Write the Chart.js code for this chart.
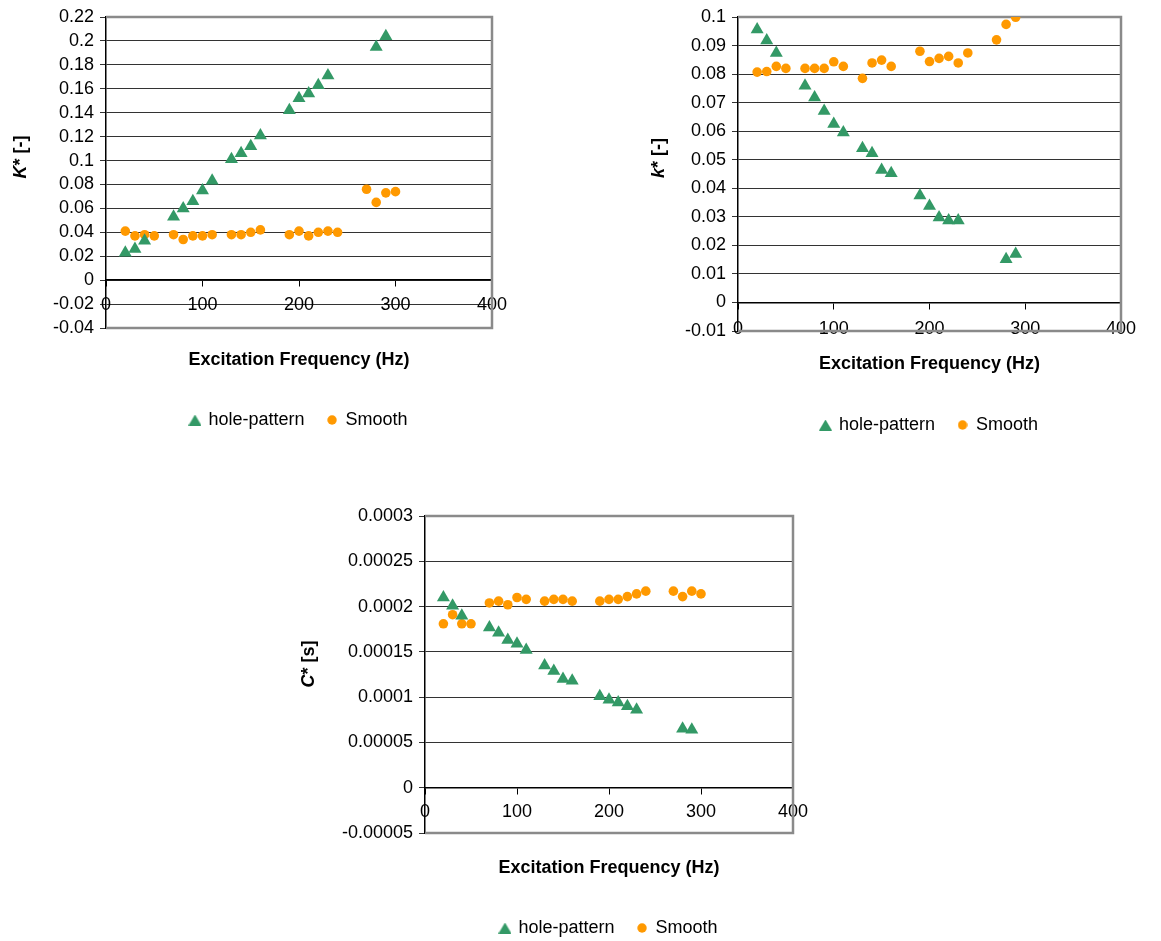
<!DOCTYPE html>
<html>
<head>
<meta charset="UTF-8">
<title>Excitation Frequency</title>
<script src="https://cdn.jsdelivr.net/npm/chart.js@4.4.0/dist/chart.umd.min.js"></script>
<style>
  body { margin: 0; background: #fff; width: 1161px; height: 941px; overflow: hidden; position: relative; }
  .box { position: absolute; }
</style>
</head>
<body>

<div class="box" style="left:0px;top:0px"><canvas id="chart1" width="520" height="440"></canvas></div>
<div class="box" style="left:630px;top:0px"><canvas id="chart2" width="531" height="444"></canvas></div>
<div class="box" style="left:290px;top:484px"><canvas id="chart3" width="540" height="457"></canvas></div>

<script>
// frequencies (Hz)
var freqHole = [20, 30, 40, 70, 80, 90, 100, 110, 130, 140, 150, 160, 190, 200, 210, 220, 230, 280, 290];
var freqSmooth = [20, 30, 40, 50, 70, 80, 90, 100, 110, 130, 140, 150, 160, 190, 200, 210, 220, 230, 240, 270, 280, 290, 300];
var freqSmooth2 = [20, 30, 40, 50, 70, 80, 90, 100, 110, 130, 140, 150, 160, 190, 200, 210, 220, 230, 240, 270, 280, 290];

// K* [-]
var kHole = [0.023, 0.026, 0.033, 0.053, 0.060, 0.066, 0.075, 0.083, 0.101, 0.106, 0.112, 0.121, 0.142, 0.152, 0.156, 0.163, 0.171, 0.195, 0.204];
var kSmooth = [0.041, 0.037, 0.038, 0.037, 0.038, 0.034, 0.037, 0.037, 0.038, 0.038, 0.038, 0.040, 0.042, 0.038, 0.041, 0.037, 0.040, 0.041, 0.040, 0.076, 0.065, 0.073, 0.074];

// k* [-]
var k2Hole = [0.0956, 0.0918, 0.0874, 0.0759, 0.0718, 0.0671, 0.0625, 0.0595, 0.0540, 0.0523, 0.0464, 0.0453, 0.0375, 0.0338, 0.0298, 0.0287, 0.0287, 0.0151, 0.0170];
var k2Smooth = [0.0807, 0.0809, 0.0827, 0.0820, 0.0820, 0.0820, 0.0820, 0.0843, 0.0827, 0.0785, 0.0839, 0.0849, 0.0827, 0.0880, 0.0844, 0.0855, 0.0862, 0.0839, 0.0874, 0.0920, 0.0974, 0.0999];

// C* [s]
var cHole = [0.000210, 0.000201, 0.000190, 0.000177, 0.000171, 0.000163, 0.000159, 0.000152, 0.000135, 0.000129, 0.000120, 0.000118, 0.000101, 0.000097, 0.000094, 0.000090, 0.000086, 0.000065, 0.000064];
var cSmooth = [0.000181, 0.000191, 0.000181, 0.000181, 0.000204, 0.000206, 0.000202, 0.000210, 0.000208, 0.000206, 0.000208, 0.000208, 0.000206, 0.000206, 0.000208, 0.000208, 0.000211, 0.000214, 0.000217, 0.000217, 0.000211, 0.000217, 0.000214];

// axis ranges: [min, max, step]
var freqRange = [0, 400, 100];
var kRange = [-0.04, 0.22, 0.02];
var k2Range = [-0.01, 0.1, 0.01];
var cRange = [-0.00005, 0.0003, 0.00005];

var seriesNames = ['hole-pattern', 'Smooth'];
var xTitle = 'Excitation Frequency (Hz)';

var green = '#339966';
var orange = '#ff9900';
var FONT = '"Liberation Sans", Arial, sans-serif';

Chart.defaults.font.family = FONT;
Chart.defaults.font.size = 18;
Chart.defaults.color = '#000';

function pts(xs, ys) {
  return xs.map(function (x, i) { return { x: x, y: ys[i] }; });
}

function fmt(v) {
  return String(parseFloat(Number(v).toPrecision(6)));
}

// small legend icons (the legend would otherwise size both the same)
function icon(kind) {
  var c = document.createElement('canvas');
  var g = c.getContext('2d');
  if (kind === 'triangle') {
    c.width = 13; c.height = 11;
    g.fillStyle = green;
    g.beginPath();
    g.moveTo(6.5, 0); g.lineTo(13, 11); g.lineTo(0, 11);
    g.closePath(); g.fill();
  } else {
    c.width = 10; c.height = 10;
    g.fillStyle = orange;
    g.beginPath();
    g.arc(5, 5, 4.7, 0, Math.PI * 2);
    g.fill();
  }
  return c;
}
var legendIcons = [icon('triangle'), icon('circle')];

// gray frame round the plot area
var frame = {
  id: 'frame',
  beforeDatasetsDraw: function (chart) {
    var ctx = chart.ctx, a = chart.chartArea;
    ctx.save();
    ctx.strokeStyle = '#8a8a8a';
    ctx.lineWidth = 2.5;
    ctx.beginPath();
    ctx.moveTo(a.left, a.top);
    ctx.lineTo(a.right, a.top);
    ctx.lineTo(a.right, a.bottom);
    ctx.lineTo(a.left, a.bottom);
    ctx.stroke();
    ctx.restore();
  }
};

// rotated y title with italic symbol
var yLabel = {
  id: 'yLabel',
  afterDraw: function (chart, args, opts) {
    var ctx = chart.ctx;
    ctx.save();
    ctx.translate(opts.x, opts.y);
    ctx.rotate(-Math.PI / 2);
    ctx.fillStyle = '#000';
    ctx.textBaseline = 'middle';
    ctx.textAlign = 'left';
    var total = 0;
    opts.parts.forEach(function (p) {
      ctx.font = p[1] + ' 18px ' + FONT;
      total += ctx.measureText(p[0]).width;
    });
    var x = -total / 2;
    opts.parts.forEach(function (p) {
      ctx.font = p[1] + ' 18px ' + FONT;
      ctx.fillText(p[0], x, 0);
      x += ctx.measureText(p[0]).width;
    });
    ctx.restore();
  }
};

function makeChart(id, holeX, holeY, smoothX, smoothY, yRange, yParts, lay) {
  new Chart(document.getElementById(id), {
    type: 'scatter',
    data: {
      datasets: [{
        label: seriesNames[0],
        data: pts(holeX, holeY),
        pointStyle: 'triangle',
        pointRadius: 7.5,
        backgroundColor: green,
        borderColor: green,
        borderWidth: 0
      }, {
        label: seriesNames[1],
        data: pts(smoothX, smoothY),
        pointStyle: 'circle',
        pointRadius: 4.8,
        backgroundColor: orange,
        borderColor: orange,
        borderWidth: 0
      }]
    },
    options: {
      responsive: false,
      animation: false,
      events: [],
      layout: { padding: lay.pad },
      scales: {
        x: {
          type: 'linear',
          position: { y: 0 },
          min: freqRange[0],
          max: freqRange[1],
          ticks: { stepSize: freqRange[2], padding: lay.xPad, color: '#000' },
          grid: { drawOnChartArea: false, tickLength: 6, color: '#000' },
          border: { color: '#000', width: 1.5 },
          afterFit: function (s) { s.height = 0; }
        },
        y: {
          min: yRange[0],
          max: yRange[1],
          ticks: { stepSize: yRange[2], maxTicksLimit: 30, autoSkip: false, padding: 6, color: '#000', callback: fmt },
          grid: { color: '#333', tickLength: 6 },
          border: { color: '#000', width: 1.5 },
          afterFit: function (s) { s.width = lay.yW; }
        }
      },
      plugins: {
        legend: {
          position: 'bottom',
          fullSize: false,
          labels: {
            usePointStyle: true, boxWidth: 9, boxHeight: 9, padding: 23, color: '#000', font: { size: 18 },
            generateLabels: function (chart) {
              var items = Chart.defaults.plugins.legend.labels.generateLabels(chart);
              items.forEach(function (it, i) { it.pointStyle = legendIcons[i]; });
              return items;
            }
          }
        },
        title: {
          display: true,
          position: 'bottom',
          fullSize: false,
          weight: 500,
          text: xTitle,
          color: '#000',
          font: { size: 18, weight: 'bold' },
          padding: { top: lay.tTop, bottom: lay.tBottom }
        },
        tooltip: { enabled: false },
        yLabel: { x: lay.yLabelX, y: lay.yLabelY, parts: yParts }
      }
    },
    plugins: [frame, yLabel]
  });
}

makeChart('chart1', freqHole, kHole, freqSmooth, kSmooth, kRange,
  [['K', 'italic bold'], ['* [-]', 'bold']],
  { pad: { left: 4, top: 17, right: 28, bottom: 1 }, yW: 102, xPad: 8, tTop: 21.2, tBottom: 17.2, yLabelX: 21, yLabelY: 157 });

makeChart('chart2', freqHole, k2Hole, freqSmooth2, k2Smooth, k2Range,
  [['k', 'italic bold'], ['* [-]', 'bold']],
  { pad: { left: 4, top: 17, right: 40, bottom: 0 }, yW: 104, xPad: 10, tTop: 22.2, tBottom: 18.2, yLabelX: 29, yLabelY: 158 });

makeChart('chart3', freqHole, cHole, freqSmooth, cSmooth, cRange,
  [['C', 'italic bold'], ['* [s]', 'bold']],
  { pad: { left: 4, top: 32, right: 37, bottom: -6 }, yW: 131, xPad: 8, tTop: 24.2, tBottom: 17.2, yLabelX: 19, yLabelY: 180 });
</script>
</body>
</html>
